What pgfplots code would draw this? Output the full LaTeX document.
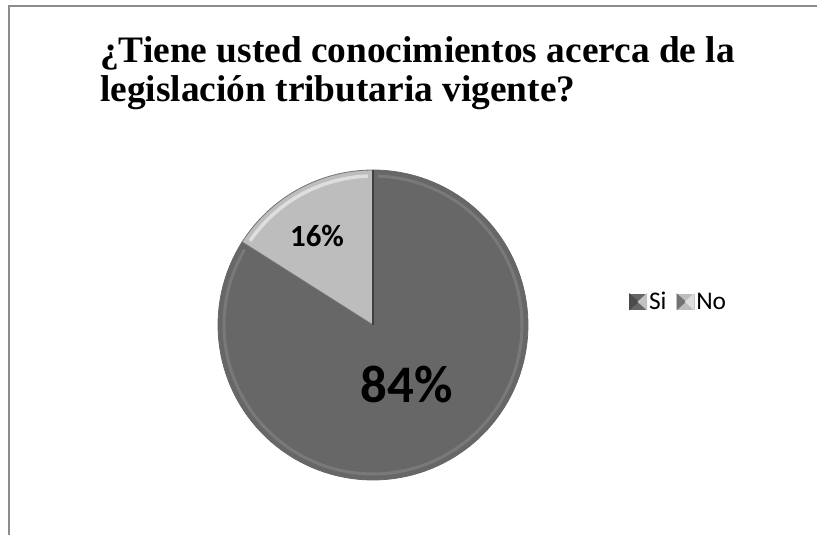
\documentclass[border=0pt]{standalone}
\usepackage{pgfplots}
\pgfplotsset{compat=1.18}
\usepackage{fontspec}
\setmainfont{Liberation Serif}
\newfontfamily\calib{Carlito}
\definecolor{siC}{HTML}{676767}
\definecolor{noC}{HTML}{BDBDBD}
\definecolor{frameC}{HTML}{8C8C8C}
\def\vSi{84}
\def\vNo{16}
\pgfmathsetmacro{\aSplit}{90+3.6*\vNo}
\pgfmathsetmacro{\aEnd}{450}
\newcommand{\legf}{\calib\fontsize{25.5}{25.5}\selectfont}
\begin{document}
\begin{tikzpicture}
\useasboundingbox (0,0) rectangle (817bp,535bp);
\begin{axis}[
  at={(0,0)}, anchor=south west,
  scale only axis, width=817bp, height=535bp,
  xmin=0, xmax=817, ymin=0, ymax=535,
  axis lines=none, ticks=none, clip=false,
  legend style={draw=none, fill=none, at={(axis cs:629,233)}, anchor=west,
    inner sep=0pt, nodes={inner sep=1pt},
    /tikz/every odd column/.append style={column sep=1bp},
    /tikz/every even column/.append style={column sep=9bp}},
  legend columns=2,
]
% Si wedge
\addplot[fill=siC, draw=black!60, line width=0.8bp, domain=\aSplit:\aEnd, samples=120, variable=\t,
  legend image code/.code={\fill[siC] (0bp,-7.5bp) rectangle (17bp,8bp);
     \fill[black!70] (0bp,-7.5bp) -- (8.5bp,0.25bp) -- (0bp,8bp) -- cycle;
     \fill[white!60!siC] (17bp,-7.5bp) -- (8.5bp,0.25bp) -- (17bp,8bp) -- cycle;}]
  ({373+155*cos(t)},{210+155*sin(t)}) -- (axis cs:373,210) -- cycle;
\addlegendentry{\legf Si}
% No wedge
\addplot[fill=noC, draw=black!55, line width=0.8bp, domain=90:\aSplit, samples=40, variable=\t,
  legend image code/.code={\fill[noC] (0bp,-7.5bp) rectangle (17bp,8bp);
     \fill[black!55] (0bp,-7.5bp) -- (8.5bp,0.25bp) -- (0bp,8bp) -- cycle;
     \fill[white!50!noC] (17bp,-7.5bp) -- (8.5bp,0.25bp) -- (17bp,8bp) -- cycle;}]
  ({373+155*cos(t)},{210+155*sin(t)}) -- (axis cs:373,210) -- cycle;
\addlegendentry{\legf No}
% bevel highlights
\addplot[draw=white, opacity=0.5, line width=3.5bp, domain=92:\aSplit-2, samples=30, variable=\t, forget plot]
  ({373+149*cos(t)},{210+149*sin(t)});
\addplot[draw=white, opacity=0.12, line width=3bp, domain=\aSplit+2:448, samples=100, variable=\t, forget plot]
  ({373+149*cos(t)},{210+149*sin(t)});
\addplot[draw=black!75, line width=1.2bp, forget plot] coordinates {(373,365) (373,210)};
% labels
\node[font=\calib\bfseries\fontsize{31}{31}\selectfont] at (axis cs:317,299) {16\%};
\node[font=\calib\bfseries\fontsize{53}{53}\selectfont] at (axis cs:407,151) {84\%};
% title
\node[anchor=base west, font=\bfseries\fontsize{37.5}{37.5}\selectfont, inner sep=0pt] at (axis cs:100,472) {¿Tiene usted conocimientos acerca de la};
\node[anchor=base west, font=\bfseries\fontsize{37.5}{37.5}\selectfont, inner sep=0pt] at (axis cs:100,433) {legislación tributaria vigente?};
% frame
\draw[frameC, line width=2bp] (axis cs:9,0) -- (axis cs:9,529) -- (axis cs:817,529);
\end{axis}
\end{tikzpicture}
\end{document}
